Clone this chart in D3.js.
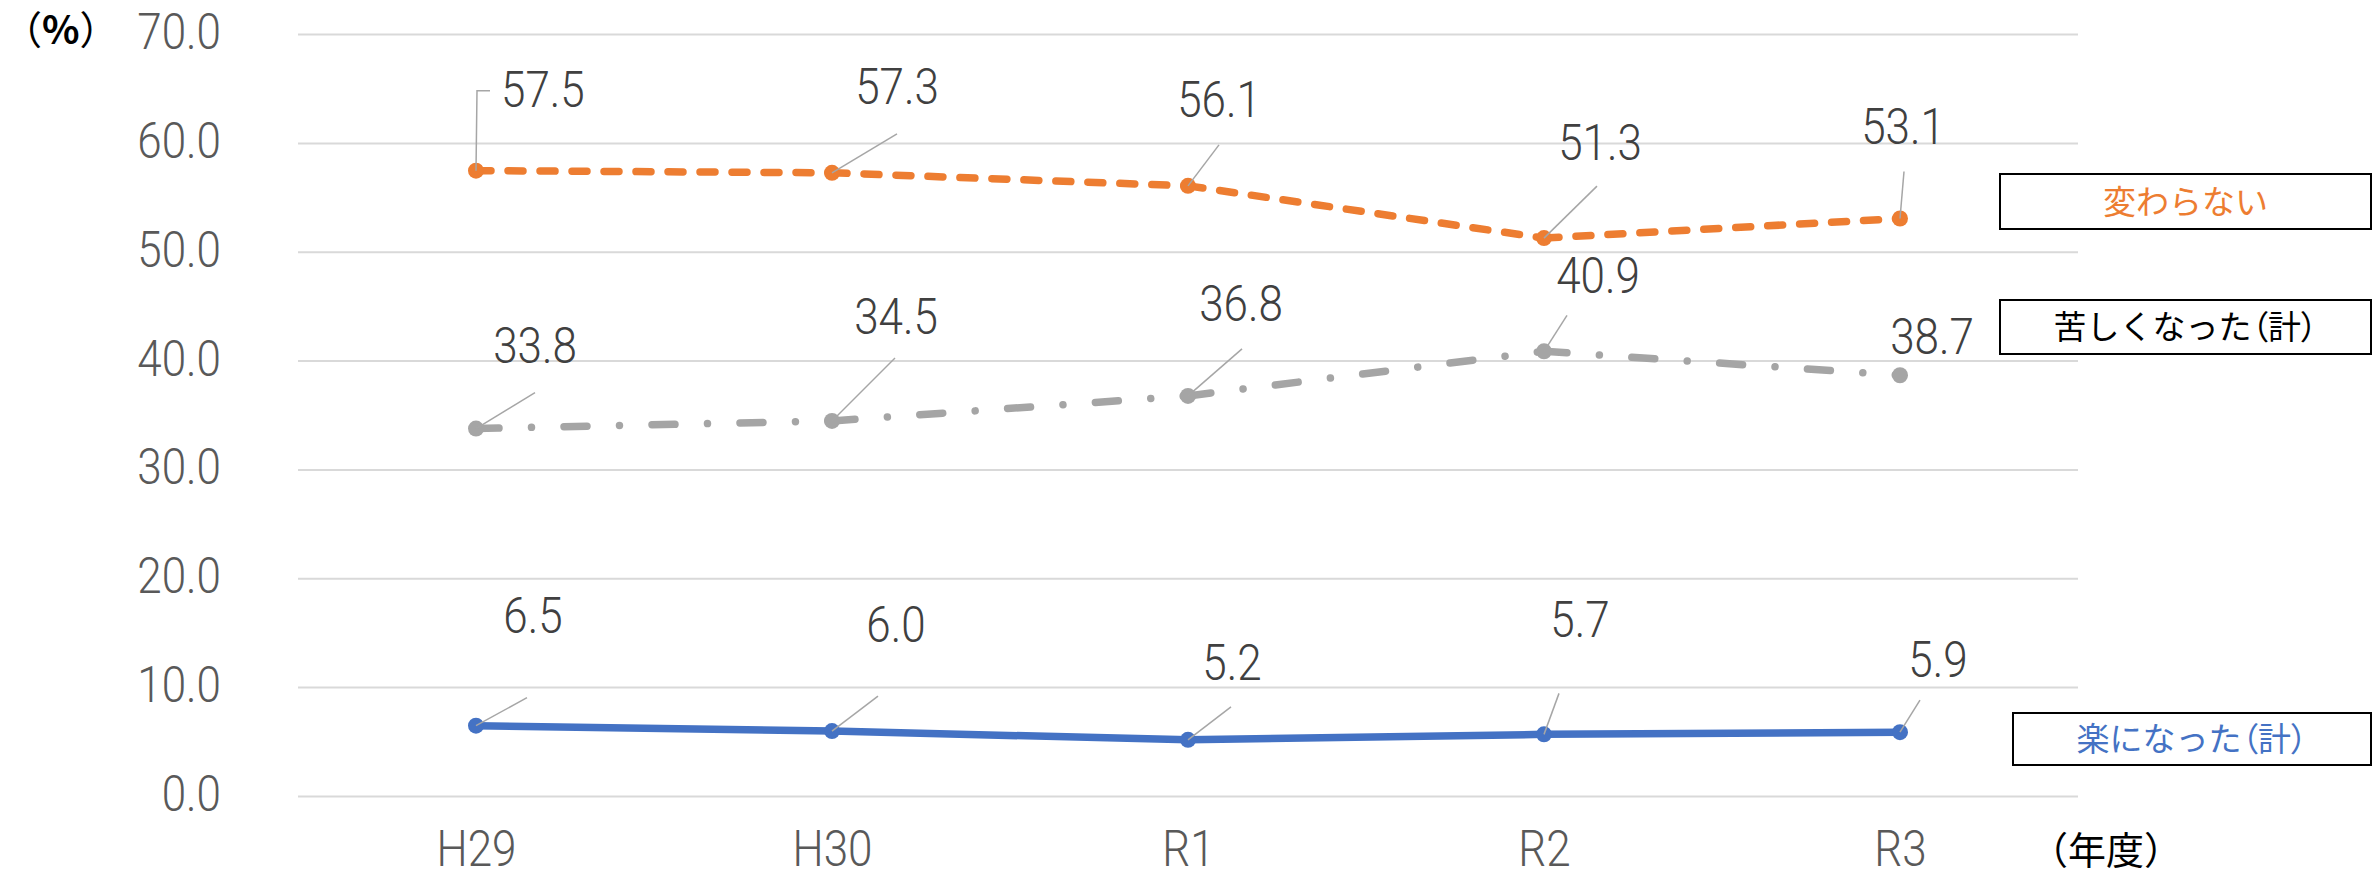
<!DOCTYPE html>
<html><head><meta charset="utf-8">
<script src="https://cdn.jsdelivr.net/npm/d3@7"></script>
<style>
html,body{margin:0;padding:0;background:#fff;}
svg{display:block;}
</style></head>
<body><svg id="c" width="2374" height="877"></svg>
<script>
// ---- data ----
const categories = ["H29", "H30", "R1", "R2", "R3"];
const kawaranai = [57.5, 57.3, 56.1, 51.3, 53.1];   // 変わらない
const kurushiku = [33.8, 34.5, 36.8, 40.9, 38.7];   // 苦しくなった（計）
const raku      = [6.5, 6.0, 5.2, 5.7, 5.9];        // 楽になった（計）
const yTicks = [0, 10, 20, 30, 40, 50, 60, 70];
const seriesNames = ["変わらない", "苦しくなった（計）", "楽になった（計）"];

// ---- layout / style (not data) ----
const W = 2374, H = 877;
const plot = {left: 298, right: 2078, top: 34.6, bottom: 796.4};
const numFont = "Roboto,'Liberation Sans',sans-serif";
const numW = 300, numSX = 0.88, numSize = 50;
const jpFont = "'Noto Sans CJK JP','Noto Sans',sans-serif";

const svg = d3.select("#c");
svg.append("rect").attr("width", W).attr("height", H).attr("fill", "#fff");

const x = d3.scalePoint().domain(categories).range([plot.left, plot.right]).padding(0.5);
const y = d3.scaleLinear().domain([0, 70]).range([plot.bottom, plot.top]);

// gridlines
svg.append("g").selectAll("line").data(yTicks).join("line")
  .attr("x1", plot.left).attr("x2", plot.right)
  .attr("y1", d => y(d)).attr("y2", d => y(d))
  .attr("stroke", "#d9d9d9").attr("stroke-width", 2);

// y axis labels
const yAxis = d3.axisLeft(y).tickValues(yTicks).tickFormat(d3.format(".1f")).tickSize(0).tickPadding(0);
const yg = svg.append("g").attr("transform", `translate(${plot.left - 77},0)`).call(yAxis);
yg.select(".domain").remove();
yg.selectAll("text").attr("font-family", numFont).attr("font-weight", numW).attr("font-size", numSize)
  .attr("fill", "#595959").attr("dy", null).attr("x", 0).attr("y", 0)
  .attr("transform", `translate(0,14) scale(${numSX},1)`);

// x axis labels
const xAxis = d3.axisBottom(x).tickSize(0).tickPadding(0);
const xg = svg.append("g").attr("transform", `translate(0,866)`).call(xAxis);
xg.select(".domain").remove();
xg.selectAll("text").attr("font-family", numFont).attr("font-weight", numW).attr("font-size", numSize)
  .attr("fill", "#595959").attr("dy", null).attr("y", 0)
  .attr("transform", `scale(${numSX},1)`);

// series
const series = [
  {name: seriesNames[0], values: kawaranai, color: "#ED7D31", dash: "15,17", width: 7.5,
   labels: [[25,-82,"start"],[65,-87],[31,-87],[56,-96],[3,-93]],
   leaders: [null,[65,-39],[31,-41],[53,-52],[4,-47]]},
  {name: seriesNames[1], values: kurushiku, color: "#A5A5A5", dash: "23,32.5,0.01,32.5", width: 7.5,
   labels: [[59,-84],[64,-105],[53,-93],[54,-76],[32,-39]],
   leaders: [[59,-36],[63,-63],[54,-47],[23,-36],null]},
  {name: seriesNames[2], values: raku, color: "#4472C4", dash: null, width: 7.5,
   labels: [[57,-111],[64,-107],[44,-78],[36,-115],[38,-73]],
   leaders: [[51,-28],[46,-35],[43,-33],[15,-41],[20,-32]]}
];

series.forEach(s => {
  const pts = categories.map((c, i) => [x(c), y(s.values[i])]);
  const g = svg.append("g");
  // segments (dash pattern restarts on each segment)
  g.selectAll("path.seg").data(d3.pairs(pts)).join("path")
    .attr("class", "seg")
    .attr("d", d => d3.line()(d))
    .attr("fill", "none").attr("stroke", s.color).attr("stroke-width", s.width)
    .attr("stroke-linecap", "round").attr("stroke-dasharray", s.dash);
  // markers
  g.selectAll("circle").data(pts).join("circle")
    .attr("cx", d => d[0]).attr("cy", d => d[1]).attr("r", 8).attr("fill", s.color);
  // leaders
  pts.forEach((p, i) => {
    const L = s.leaders[i];
    if (i === 0 && s === series[0]) {
      g.append("path").attr("d", d3.line()([[p[0], p[1]], [p[0] + 1, p[1] - 80], [p[0] + 14, p[1] - 80]]))
        .attr("fill", "none").attr("stroke", "#a6a6a6").attr("stroke-width", 1.5);
    } else if (L) {
      g.append("line").attr("x1", p[0]).attr("y1", p[1]).attr("x2", p[0] + L[0]).attr("y2", p[1] + L[1])
        .attr("stroke", "#a6a6a6").attr("stroke-width", 1.5);
    }
  });
  // labels
  g.selectAll("text").data(pts).join("text")
    .attr("transform", (d, i) => `translate(${d[0] + s.labels[i][0]},${d[1] + s.labels[i][1] + 18}) scale(${numSX},1)`)
    .attr("text-anchor", (d, i) => s.labels[i][2] || "middle")
    .attr("font-family", numFont).attr("font-weight", numW).attr("font-size", numSize).attr("fill", "#404040")
    .text((d, i) => d3.format(".1f")(s.values[i]));
});

// legend boxes
const boxes = [
  {text: seriesNames[0], color: "#ED7D31", x: 2000, y: 174, w: 371, h: 55},
  {text: seriesNames[1], color: "#000000", x: 2000, y: 300, w: 371, h: 54},
  {text: seriesNames[2], color: "#4472C4", x: 2013, y: 713, w: 358, h: 52}
];
const bg = svg.append("g");
boxes.forEach(b => {
  bg.append("rect").attr("x", b.x).attr("y", b.y).attr("width", b.w).attr("height", b.h)
    .attr("fill", "#fff").attr("stroke", "#000").attr("stroke-width", 2);
  const t = bg.append("text").attr("x", b.x + b.w / 2).attr("y", b.y + b.h / 2 + 12)
    .attr("text-anchor", "middle").attr("font-family", jpFont).attr("font-size", 33)
    .attr("fill", b.color);
  // parentheses set proportionally, other characters full width
  b.text.split(/([（）])/).filter(p => p.length).forEach(p => {
    const ts = t.append("tspan").text(p);
    if (p === "（" || p === "）") ts.style("font-feature-settings", "'palt'");
  });
});

// unit labels
const pct = svg.append("text").attr("x", 3).attr("y", 44).attr("font-family", jpFont).attr("font-size", 39)
  .attr("fill", "#000");
pct.append("tspan").text("（");
pct.append("tspan").attr("font-weight", 700).text("%");
pct.append("tspan").text("）");
svg.append("text").attr("x", 2030).attr("y", 864).attr("font-family", jpFont).attr("font-size", 38)
  .attr("fill", "#000").text("（年度）");
</script></body></html>
